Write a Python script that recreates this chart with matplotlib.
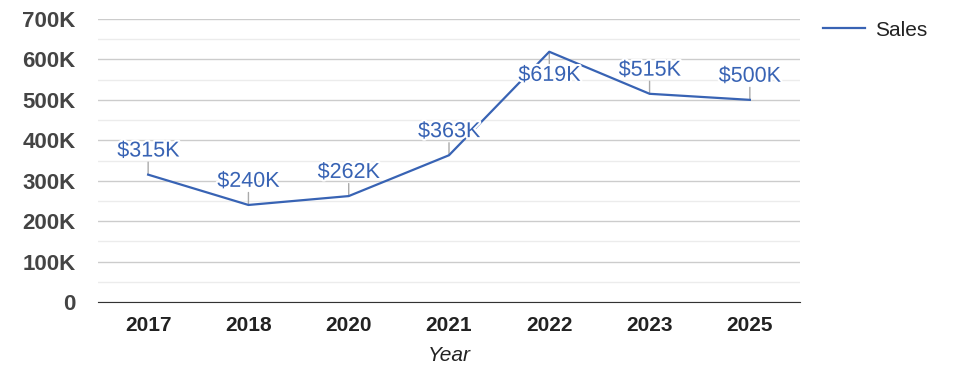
import matplotlib.pyplot as plt
import matplotlib.patheffects as pe
from matplotlib.ticker import MultipleLocator, FuncFormatter

plt.rcParams['font.family'] = ['Liberation Sans', 'DejaVu Sans']

# data
years = ['2017', '2018', '2020', '2021', '2022', '2023', '2025']
sales = [315000, 240000, 262000, 363000, 619000, 515000, 500000]
point_labels = ['$315K', '$240K', '$262K', '$363K', '$619K', '$515K', '$500K']
label_below = [False, False, False, False, True, False, False]

line_color = '#3863b4'
fig = plt.figure(figsize=(9.75, 3.78), dpi=100)
ax = fig.add_axes([98 / 975, 1 - 302 / 378, 702 / 975, 283 / 378])

x = list(range(len(years)))
ax.plot(x, sales, color=line_color, lw=1.6, zorder=3, label='Sales')

# labels with little leader ticks
for xi, v, lab, below in zip(x, sales, point_labels, label_below):
    sign = -1 if below else 1
    ax.annotate('', xy=(xi, v), xytext=(0, sign * 9), textcoords='offset points',
                arrowprops=dict(arrowstyle='-', color='#aaaaaa', lw=1, shrinkA=0, shrinkB=0),
                zorder=2)
    ax.annotate(lab, xy=(xi, v), xytext=(0, sign * 17), textcoords='offset points',
                ha='center', va='center', fontsize=15.5, color=line_color, zorder=4,
                path_effects=[pe.withStroke(linewidth=3, foreground='white')])

ax.set_xlim(-0.5, len(years) - 0.5)
ax.set_ylim(0, 700000)
ax.set_xticks(x)
ax.set_xticklabels(years, fontsize=15, fontweight='bold', color='#222222')
ax.yaxis.set_major_locator(MultipleLocator(100000))
ax.yaxis.set_minor_locator(MultipleLocator(50000))
ax.yaxis.set_major_formatter(FuncFormatter(lambda v, p: '0' if v == 0 else f'{int(v / 1000)}K'))
for t in ax.get_yticklabels():
    t.set_fontsize(16)
    t.set_fontweight('bold')
    t.set_color('#444444')

ax.grid(axis='y', which='major', color='#cccccc', lw=1, zorder=0)
ax.grid(axis='y', which='minor', color='#ececec', lw=1, zorder=0)
ax.tick_params(axis='both', which='both', length=0)
ax.tick_params(axis='y', pad=16)
ax.tick_params(axis='x', pad=10)
for s in ['left', 'right', 'top']:
    ax.spines[s].set_visible(False)
ax.spines['bottom'].set_color('#333333')
ax.spines['bottom'].set_zorder(3)

ax.set_xlabel('Year', fontsize=15, style='italic', color='#222222', labelpad=8)

ax.legend(loc='upper left', bbox_to_anchor=(1.006, 1.06), frameon=False, fontsize=15,
          handlelength=2.0, handletextpad=0.5, labelcolor='#222222')

fig.savefig('out.png', dpi=100)
